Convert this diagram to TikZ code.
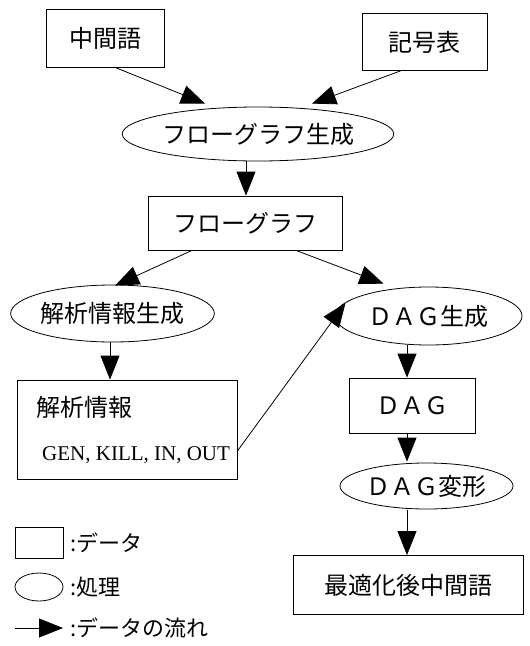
\documentclass[tikz,border=0pt]{standalone}
\usepackage{fontspec}
\setmainfont{Liberation Serif}
\newfontfamily\jp{Noto Sans CJK JP}
\usetikzlibrary{shapes.geometric,arrows.meta}
\tikzset{
  databox/.style={draw,rectangle,inner sep=0pt,line width=0.8pt,font=\jp\fontsize{24}{26}\selectfont},
  proc/.style={draw,ellipse,inner sep=0pt,line width=0.8pt,font=\jp\fontsize{24}{26}\selectfont},
  flow/.style={line width=0.8pt,-{Triangle[length=24pt,width=19pt]}},
  legtext/.style={anchor=west,inner sep=0pt,font=\jp\fontsize{22}{24}\selectfont}
}
\begin{document}
\begin{tikzpicture}[x=1pt,y=-1pt]
\useasboundingbox (0,0) rectangle (530,646);
% data boxes
\node[databox,minimum width=118pt,minimum height=58pt] (m1) at (105,38) {中間語};
\node[databox,minimum width=125pt,minimum height=57pt] (kig) at (424.5,42) {記号表};
\node[proc,minimum width=246pt,minimum height=54pt] (fgen) at (258,134) {フローグラフ生成};
\node[databox,minimum width=194pt,minimum height=54pt] (fg) at (245,223) {フローグラフ};
\node[proc,minimum width=199pt,minimum height=57pt] (agen) at (112.5,313.5) {解析情報生成};
\node[proc,minimum width=187pt,minimum height=58pt] (dgen) at (428.5,316) {ＤＡＧ生成};
\node[databox,minimum width=220pt,minimum height=99pt] (ainfo) at (127,429.5) {};
\node[anchor=west,inner sep=0pt,font=\jp\fontsize{24}{26}\selectfont] (ainfot) at (36,407) {解析情報};
\node[anchor=west,inner sep=0pt,font=\fontsize{21}{23}\selectfont] (ainfog) at (42,455) {GEN, KILL, IN, OUT};
\node[databox,minimum width=126pt,minimum height=55pt] (dag) at (412,405.5) {ＤＡＧ};
\node[proc,minimum width=173pt,minimum height=46pt] (dtr) at (426.5,486) {ＤＡＧ変形};
\node[databox,minimum width=230pt,minimum height=59pt] (opt) at (408,585) {最適化後中間語};
% flows
\draw[flow] ([xshift=10pt]m1.south) -- ([xshift=-53pt,yshift=3pt]fgen.north);
\draw[flow] ([xshift=-24pt]kig.south) -- ([xshift=54pt,yshift=3pt]fgen.north);
\draw[flow] ([xshift=-12pt]fgen.south) -- ([xshift=1pt]fg.north);
\draw[flow] ([xshift=-53pt]fg.south) -- ([xshift=2.5pt,yshift=-1pt]agen.north);
\draw[flow] ([xshift=51pt]fg.south) -- ([xshift=-45pt,yshift=3pt]dgen.north);
\draw[flow] ([xshift=-2.5pt]agen.south) -- ([xshift=-17pt]ainfo.north);
\draw[flow] ([yshift=-21.5pt]ainfo.east) -- ([xshift=-83pt,yshift=13pt]dgen.center);
\draw[flow] ([xshift=-21.5pt]dgen.south) -- ([xshift=-5pt]dag.north);
\draw[flow] ([xshift=-5pt]dag.south) -- ([xshift=-19.5pt,yshift=1pt]dtr.north);
\draw[flow] ([xshift=-19.5pt,yshift=-1pt]dtr.south) -- ([xshift=-1pt]opt.north);
% legend
\node[draw,rectangle,inner sep=0pt,line width=0.8pt,minimum width=48pt,minimum height=31pt] (lrect) at (39,542.5) {};
\node[legtext] (lrectt) at (70,542.5) {:データ};
\node[draw,ellipse,inner sep=0pt,line width=0.8pt,minimum width=48pt,minimum height=28pt] (lell) at (39,587) {};
\node[legtext] (lellt) at (70,587) {:処理};
\coordinate (la) at (15,628);
\coordinate (lb) at (63,628);
\node[legtext] (lflowt) at (70,628) {:データの流れ};
\draw[flow] (la) -- (lb);
\end{tikzpicture}
\end{document}
